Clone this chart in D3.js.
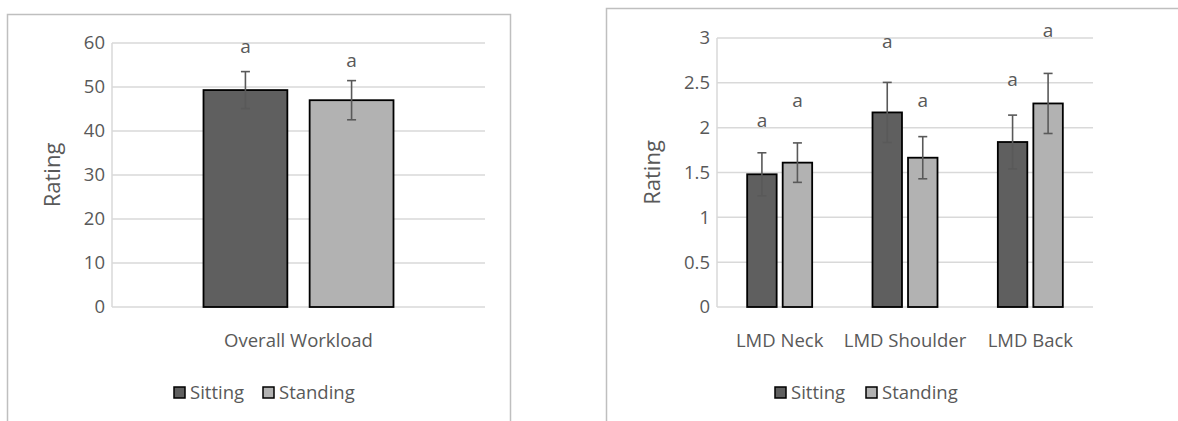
<!DOCTYPE html>
<html lang="en">
<head>
    <meta charset="UTF-8">
    <title>Rating - Sitting vs Standing</title>
    <style>
        body { margin: 0; background: #fff; }
        svg text { font-family: "Open Sans", sans-serif; fill: #595959; }
    </style>
</head>
<body>
    <svg id="chart" width="1178" height="421"></svg>

    <script src="https://cdn.jsdelivr.net/npm/d3@7"></script>
    <script>
        // series names and colours
        const series = ["Sitting", "Standing"];
        const colors = ["#5f5f5f", "#b2b2b2"];

        // left chart: overall workload
        const workloadCats = ["Overall Workload"];
        const workloadSitting = [49.3];
        const workloadStanding = [47.0];
        const workloadSittingErr = [4.2];
        const workloadStandingErr = [4.45];
        const workloadTicks = [0, 10, 20, 30, 40, 50, 60];
        // where the "a" letters sit (in rating units)
        const workloadLetterSitting = [57.7];
        const workloadLetterStanding = [54.5];

        // right chart: LMD ratings
        const lmdCats = ["LMD Neck", "LMD Shoulder", "LMD Back"];
        const lmdSitting = [1.48, 2.17, 1.84];
        const lmdStanding = [1.61, 1.665, 2.27];
        const lmdSittingErr = [0.24, 0.335, 0.30];
        const lmdStandingErr = [0.22, 0.235, 0.335];
        const lmdTicks = [0, 0.5, 1, 1.5, 2, 2.5, 3];
        const lmdLetterSitting = [2.01, 2.89, 2.47];
        const lmdLetterStanding = [2.23, 2.23, 3.01];

        const svg = d3.select("#chart");

        function drawPanel(opt) {
            const g = svg.append("g");

            // chart frame
            g.append("rect")
                .attr("x", opt.frame[0] + 0.5).attr("y", opt.frame[1] + 0.5)
                .attr("width", opt.frame[2]).attr("height", opt.frame[3])
                .attr("fill", "none")
                .attr("stroke", "#bfbfbf")
                .attr("stroke-width", 1.5);

            const x = d3.scaleBand()
                .domain(opt.cats)
                .range([opt.left, opt.right]);

            const inner = d3.scaleBand()
                .domain(series)
                .range([x.bandwidth() / 2 - opt.groupW / 2, x.bandwidth() / 2 + opt.groupW / 2])
                .paddingInner(opt.gapRatio);

            const y = d3.scaleLinear()
                .domain([opt.ticks[0], opt.ticks[opt.ticks.length - 1]])
                .range([opt.bottom, opt.top]);

            // gridlines
            g.selectAll(".grid")
                .data(opt.ticks)
                .enter().append("line")
                .attr("x1", opt.left).attr("x2", opt.right)
                .attr("y1", d => y(d)).attr("y2", d => y(d))
                .attr("stroke", "#d9d9d9")
                .attr("stroke-width", 1.5);

            // y axis line
            g.append("line")
                .attr("x1", opt.left).attr("x2", opt.left)
                .attr("y1", opt.top).attr("y2", opt.bottom)
                .attr("stroke", "#d9d9d9")
                .attr("stroke-width", 1.5);

            // tick labels
            const yAxis = g.append("g")
                .attr("transform", `translate(${opt.left},0)`)
                .call(d3.axisLeft(y).tickValues(opt.ticks).tickFormat(d => String(d))
                    .tickSize(0).tickPadding(7));
            yAxis.select(".domain").remove();
            yAxis.selectAll("text")
                .style("font-family", "'Open Sans', sans-serif")
                .style("font-size", "18.5px")
                .attr("fill", "#595959");

            // axis title
            g.append("text")
                .attr("transform", `translate(${opt.titleX},${(opt.top + opt.bottom) / 2}) rotate(-90)`)
                .attr("text-anchor", "middle")
                .style("font-size", "22px")
                .text("Rating");

            // category labels
            const xAxis = g.append("g")
                .attr("transform", `translate(0,${opt.bottom})`)
                .call(d3.axisBottom(x).tickSize(0).tickPadding(27));
            xAxis.select(".domain").remove();
            xAxis.selectAll("text")
                .style("font-family", "'Open Sans', sans-serif")
                .style("font-size", "18.5px")
                .attr("fill", "#595959");

            const rows = opt.cats.map((c, i) => ({
                cat: c,
                vals: [
                    { s: series[0], v: opt.sitting[i], e: opt.sittingErr[i], l: opt.letterSitting[i], c: colors[0] },
                    { s: series[1], v: opt.standing[i], e: opt.standingErr[i], l: opt.letterStanding[i], c: colors[1] }
                ]
            }));

            const groups = g.selectAll(".grp")
                .data(rows)
                .enter().append("g")
                .attr("transform", d => `translate(${x(d.cat)},0)`);

            const items = groups.selectAll(".item")
                .data(d => d.vals)
                .enter().append("g");

            items.append("rect")
                .attr("x", d => inner(d.s))
                .attr("y", d => y(d.v))
                .attr("width", inner.bandwidth())
                .attr("height", d => y(0) - y(d.v))
                .attr("fill", d => d.c)
                .attr("stroke", "#000")
                .attr("stroke-width", 1.8);

            // error bars
            const cx = d => inner(d.s) + inner.bandwidth() / 2;
            items.append("line")
                .attr("x1", cx).attr("x2", cx)
                .attr("y1", d => y(d.v + d.e)).attr("y2", d => y(d.v - d.e))
                .attr("stroke", "#595959").attr("stroke-width", 1.6);
            items.append("line")
                .attr("x1", d => cx(d) - 4.5).attr("x2", d => cx(d) + 4.5)
                .attr("y1", d => y(d.v + d.e)).attr("y2", d => y(d.v + d.e))
                .attr("stroke", "#595959").attr("stroke-width", 1.6);
            items.append("line")
                .attr("x1", d => cx(d) - 4.5).attr("x2", d => cx(d) + 4.5)
                .attr("y1", d => y(d.v - d.e)).attr("y2", d => y(d.v - d.e))
                .attr("stroke", "#595959").attr("stroke-width", 1.6);

            // significance letters
            items.append("text")
                .attr("x", cx)
                .attr("y", d => y(d.l))
                .attr("text-anchor", "middle")
                .style("font-size", "19px")
                .text("a");

            // legend
            const leg = g.append("g")
                .attr("transform", `translate(${opt.legendX},${opt.legendY})`);
            const legItems = leg.selectAll(".leg")
                .data(series)
                .enter().append("g")
                .attr("transform", (d, i) => `translate(${i * opt.legendStep},0)`);
            legItems.append("rect")
                .attr("x", 0).attr("y", -12)
                .attr("width", 11).attr("height", 11)
                .attr("fill", (d, i) => colors[i])
                .attr("stroke", "#000")
                .attr("stroke-width", 1.5);
            legItems.append("text")
                .attr("x", 16).attr("y", 0)
                .style("font-size", "18.5px")
                .text(d => d);
        }

        drawPanel({
            frame: [7, 14, 503, 420],
            left: 112, right: 485, top: 43, bottom: 307,
            groupW: 190, gapRatio: 0.21,
            titleX: 60,
            cats: workloadCats,
            sitting: workloadSitting, standing: workloadStanding,
            sittingErr: workloadSittingErr, standingErr: workloadStandingErr,
            letterSitting: workloadLetterSitting, letterStanding: workloadLetterStanding,
            ticks: workloadTicks,
            legendX: 174, legendY: 399, legendStep: 89
        });

        drawPanel({
            frame: [606, 8, 600, 420],
            left: 717, right: 1093, top: 38, bottom: 307,
            groupW: 65, gapRatio: 0.17,
            titleX: 660,
            cats: lmdCats,
            sitting: lmdSitting, standing: lmdStanding,
            sittingErr: lmdSittingErr, standingErr: lmdStandingErr,
            letterSitting: lmdLetterSitting, letterStanding: lmdLetterStanding,
            ticks: lmdTicks,
            legendX: 775, legendY: 399, legendStep: 91
        });
    </script>
</body>
</html>
